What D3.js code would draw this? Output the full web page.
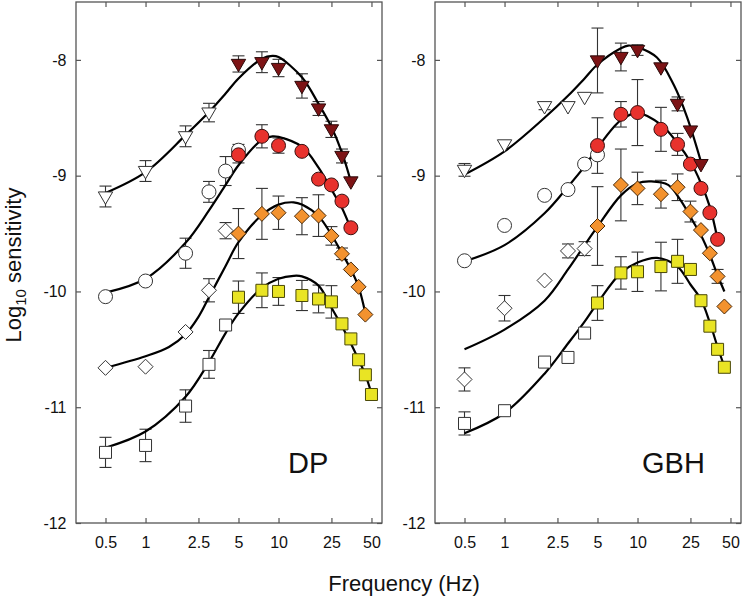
<!DOCTYPE html>
<html>
<head>
<meta charset="utf-8">
<script src="https://cdn.jsdelivr.net/npm/d3@7"></script>
<style>
  html, body { margin: 0; padding: 0; background: #fff; }
  svg { display: block; font-family: "Liberation Sans", Arial, Helvetica, sans-serif; }
</style>
</head>
<body>
<svg id="chart" width="742" height="605"></svg>
<script>
// ---------- tick labels ----------
const freqTicks = [0.5, 1, 2.5, 5, 10, 25, 50];
const logTicks = [-8, -9, -10, -11, -12];
const panelNames = ["DP", "GBH"];

// ---------- DP ----------
const dpTriF = [0.5, 1, 2, 3, 5, 7.5, 10, 15, 20, 25, 30, 35];
const dpTriV = [-9.18, -8.96, -8.66, -8.455, -8.035, -8.02, -8.07, -8.225, -8.42, -8.60, -8.83, -9.05];
const dpTriE = [0.09, 0.09, 0.09, 0.08, 0.07, 0.09, 0.075, 0.105, 0.06, 0.07, 0.06, 0];
const dpTriOpen = 4;
const dpTriFitF = [0.5, 1, 2, 3, 4, 5, 7.5, 9, 10, 15, 20, 25, 30, 35];
const dpTriFitV = [-9.15, -8.97, -8.65, -8.45, -8.29, -8.16, -7.99, -7.965, -7.975, -8.15, -8.38, -8.58, -8.80, -9.05];

const dpCirF = [0.5, 1, 2, 3, 4, 5, 5, 7.5, 10, 15, 20, 25, 30, 35];
const dpCirV = [-10.045, -9.91, -9.67, -9.14, -8.96, -8.78, -8.82, -8.66, -8.74, -8.79, -9.03, -9.08, -9.22, -9.45];
const dpCirE = [0, 0, 0.13, 0.09, 0.125, 0.05, 0.07, 0.1, 0.066, 0, 0, 0, 0, 0];
const dpCirOpen = 6;
const dpCirFitF = [0.5, 1, 2, 3, 4, 5, 7.5, 9, 10, 15, 20, 25, 30, 35];
const dpCirFitV = [-10.01, -9.89, -9.58, -9.30, -9.08, -8.91, -8.69, -8.66, -8.665, -8.75, -8.93, -9.12, -9.28, -9.46];

const dpDiaF = [0.5, 1, 2, 3, 4, 5, 7.5, 10, 15, 20, 25, 30, 35, 40, 45];
const dpDiaV = [-10.66, -10.65, -10.35, -9.99, -9.475, -9.50, -9.33, -9.32, -9.35, -9.345, -9.52, -9.675, -9.81, -9.96, -10.20];
const dpDiaE = [0, 0, 0, 0.1, 0.07, 0.216, 0.22, 0.144, 0.16, 0.18, 0.08, 0.05, 0, 0, 0];
const dpDiaOpen = 5;
const dpDiaFitF = [0.5, 1, 1.5, 2, 2.5, 3, 4, 5, 7.5, 10, 13, 15, 20, 25, 30, 35, 40, 45];
const dpDiaFitV = [-10.66, -10.56, -10.48, -10.37, -10.22, -10.05, -9.78, -9.575, -9.34, -9.25, -9.23, -9.25, -9.35, -9.51, -9.67, -9.81, -9.96, -10.19];

const dpSqrF = [0.5, 1, 2, 3, 4, 5, 7.5, 10, 15, 20, 25, 30, 35, 40, 45, 50];
const dpSqrV = [-11.39, -11.33, -10.99, -10.63, -10.29, -10.05, -9.99, -10.0, -10.035, -10.065, -10.09, -10.28, -10.41, -10.59, -10.72, -10.89];
const dpSqrE = [0.13, 0.14, 0.14, 0.12, 0, 0.14, 0.15, 0.12, 0.13, 0.12, 0.14, 0, 0, 0, 0, 0];
const dpSqrOpen = 5;
const dpSqrFitF = [0.5, 1, 2, 3, 4, 5, 7.5, 10, 13, 15, 20, 25, 30, 35, 40, 45, 50];
const dpSqrFitV = [-11.35, -11.21, -10.91, -10.61, -10.36, -10.19, -9.97, -9.89, -9.865, -9.87, -9.95, -10.14, -10.30, -10.45, -10.59, -10.72, -10.88];

// ---------- GBH ----------
const gbTriF = [0.5, 1, 2, 3, 4, 5, 7.5, 10, 15, 20, 25, 30];
const gbTriV = [-8.95, -8.73, -8.40, -8.40, -8.32, -8.005, -7.975, -7.915, -8.065, -8.38, -8.61, -8.90];
const gbTriE = [0.055, 0, 0.03, 0, 0, 0.28, 0.12, 0.046, 0, 0.06, 0, 0];
const gbTriOpen = 5;
const gbTriFitF = [0.5, 1, 2, 3, 4, 5, 7.5, 8.5, 10, 14, 18.8, 23.5, 30];
const gbTriFitV = [-8.99, -8.79, -8.50, -8.31, -8.16, -8.04, -7.90, -7.876, -7.89, -7.98, -8.22, -8.49, -8.88];

const gbCirF = [0.5, 1, 2, 3, 4, 5, 5, 7.5, 10, 15, 20, 25, 30, 35, 40];
const gbCirV = [-9.735, -9.43, -9.17, -9.12, -8.90, -8.82, -8.74, -8.47, -8.455, -8.60, -8.73, -8.90, -9.11, -9.32, -9.55];
const gbCirE = [0, 0, 0.03, 0, 0, 0, 0.24, 0.11, 0.285, 0.19, 0.095, 0, 0, 0, 0];
const gbCirOpen = 6;
const gbCirFitF = [0.5, 1, 2, 3, 4, 5, 7.5, 10, 15, 20, 25, 30, 35, 40];
const gbCirFitV = [-9.74, -9.60, -9.325, -9.095, -8.92, -8.76, -8.52, -8.46, -8.56, -8.72, -8.88, -9.065, -9.27, -9.55];

const gbDiaF = [0.5, 1, 2, 3, 4, 5, 7.5, 10, 15, 20, 25, 30, 35, 40, 45];
const gbDiaV = [-10.76, -10.145, -9.905, -9.65, -9.63, -9.435, -9.08, -9.11, -9.16, -9.10, -9.31, -9.47, -9.67, -9.87, -10.13];
const gbDiaE = [0.1, 0.11, 0, 0.06, 0.06, 0.34, 0.31, 0.14, 0.12, 0.115, 0.09, 0, 0, 0.06, 0];
const gbDiaOpen = 5;
const gbDiaFitF = [0.5, 1, 2, 3, 4, 5, 7.5, 10, 12.7, 17, 21, 26.3, 30, 35, 40, 45];
const gbDiaFitV = [-10.50, -10.33, -10.08, -9.81, -9.60, -9.44, -9.17, -9.065, -9.05, -9.08, -9.21, -9.40, -9.515, -9.685, -9.86, -10.0];

const gbSqrF = [0.5, 1, 2, 3, 4, 5, 7.5, 10, 15, 20, 25, 30, 35, 40, 45];
const gbSqrV = [-11.14, -11.03, -10.61, -10.57, -10.36, -10.10, -9.84, -9.83, -9.785, -9.74, -9.81, -10.08, -10.30, -10.50, -10.655];
const gbSqrE = [0.1, 0, 0, 0, 0, 0.15, 0.14, 0.17, 0.21, 0.19, 0, 0, 0, 0, 0];
const gbSqrOpen = 5;
const gbSqrFitF = [0.5, 1, 2, 3, 4, 5, 7.5, 10, 14, 20, 25, 30, 35, 40, 45];
const gbSqrFitV = [-11.225, -11.05, -10.71, -10.45, -10.26, -10.10, -9.84, -9.75, -9.71, -9.785, -9.94, -10.07, -10.27, -10.48, -10.65];

// ---------- build ----------
const seriesStyle = {
  tri: { fill: "#7d1315", stroke: "#2b0a0a" },
  cir: { fill: "#e8322d", stroke: "#3a1010" },
  dia: { fill: "#f3922e", stroke: "#4a2a08" },
  sqr: { fill: "#e9e424", stroke: "#4a4808" }
};
function mk(shape, F, V, E, nOpen, fitF, fitV) {
  return {
    shape,
    pts: F.map((f, i) => ({ f, v: V[i], e: E[i], open: i < nOpen })),
    fit: fitF.map((f, i) => ({ f, v: fitV[i] }))
  };
}
const panels = [
  { name: panelNames[0], x0: 76, x1: 382, series: [
    mk("sqr", dpSqrF, dpSqrV, dpSqrE, dpSqrOpen, dpSqrFitF, dpSqrFitV),
    mk("dia", dpDiaF, dpDiaV, dpDiaE, dpDiaOpen, dpDiaFitF, dpDiaFitV),
    mk("cir", dpCirF, dpCirV, dpCirE, dpCirOpen, dpCirFitF, dpCirFitV),
    mk("tri", dpTriF, dpTriV, dpTriE, dpTriOpen, dpTriFitF, dpTriFitV)
  ]},
  { name: panelNames[1], x0: 435, x1: 741, series: [
    mk("sqr", gbSqrF, gbSqrV, gbSqrE, gbSqrOpen, gbSqrFitF, gbSqrFitV),
    mk("dia", gbDiaF, gbDiaV, gbDiaE, gbDiaOpen, gbDiaFitF, gbDiaFitV),
    mk("cir", gbCirF, gbCirV, gbCirE, gbCirOpen, gbCirFitF, gbCirFitV),
    mk("tri", gbTriF, gbTriV, gbTriE, gbTriOpen, gbTriFitF, gbTriFitV)
  ]}
];

const svg = d3.select("#chart");
const yTop = 2, yBot = 523;
const y = d3.scaleLinear().domain([-12, -7.5]).range([yBot, yTop]);
const frameColor = "#555";

function shapePath(shape) {
  if (shape === "cir") return d3.symbol(d3.symbolCircle, Math.PI * 7 * 7)();
  if (shape === "sqr") return "M-6,-6H6V6H-6Z";
  if (shape === "dia") return "M0,-7.5L7.5,0L0,7.5L-7.5,0Z";
  return "M-7.2,-4.6L7.2,-4.6L0,7.8Z"; // downward triangle
}

panels.forEach(p => {
  const x = d3.scaleLog().domain([0.3, 60]).range([p.x0, p.x1]);
  const g = svg.append("g");

  // axes (inward ticks)
  const fmt = d => String(d);
  const bottom = g.append("g").attr("transform", `translate(0,${yBot})`)
    .call(d3.axisBottom(x).tickValues(freqTicks).tickFormat(fmt).tickSize(-5).tickSizeOuter(0).tickPadding(14));
  const top = g.append("g").attr("transform", `translate(0,${yTop})`)
    .call(d3.axisTop(x).tickValues(freqTicks).tickFormat("").tickSize(-5).tickSizeOuter(0));
  const left = g.append("g").attr("transform", `translate(${p.x0},0)`)
    .call(d3.axisLeft(y).tickValues(logTicks).tickFormat(fmt).tickSize(-5).tickSizeOuter(0).tickPadding(9.5));
  const right = g.append("g").attr("transform", `translate(${p.x1},0)`)
    .call(d3.axisRight(y).tickValues(logTicks).tickFormat("").tickSize(-5).tickSizeOuter(0));
  [bottom, top, left, right].forEach(a => {
    a.select(".domain").remove();
    a.selectAll("line").attr("stroke", frameColor).attr("stroke-width", 1.2);
    a.selectAll("text").attr("font-size", 16).attr("fill", "#111")
      .attr("font-family", '"Liberation Sans", Arial, sans-serif');
  });

  g.append("rect")
    .attr("x", p.x0).attr("y", yTop)
    .attr("width", p.x1 - p.x0).attr("height", yBot - yTop)
    .attr("fill", "none").attr("stroke", frameColor).attr("stroke-width", 1.3);

  const line = d3.line().x(d => x(d.f)).y(d => y(d.v)).curve(d3.curveCatmullRom.alpha(0.5));

  // error bars
  p.series.forEach(s => {
    const eb = g.append("g").attr("stroke", "#333").attr("stroke-width", 1.1).attr("fill", "none");
    s.pts.filter(d => d.e > 0).forEach(d => {
      const cx = x(d.f), ya = y(d.v + d.e), yb = y(d.v - d.e);
      eb.append("line").attr("x1", cx).attr("x2", cx).attr("y1", ya).attr("y2", yb);
      eb.append("line").attr("x1", cx - 6).attr("x2", cx + 6).attr("y1", ya).attr("y2", ya);
      eb.append("line").attr("x1", cx - 6).attr("x2", cx + 6).attr("y1", yb).attr("y2", yb);
    });
  });
  // fitted curves
  p.series.forEach(s => {
    g.append("path").datum(s.fit).attr("d", line)
      .attr("fill", "none").attr("stroke", "#000").attr("stroke-width", 2.2);
  });
  // markers
  p.series.forEach(s => {
    const st = seriesStyle[s.shape];
    const path = shapePath(s.shape);
    g.append("g").selectAll("path").data(s.pts).join("path")
      .attr("d", path)
      .attr("transform", d => `translate(${x(d.f)},${y(d.v)})`)
      .attr("fill", d => d.open ? "#fff" : st.fill)
      .attr("stroke", d => d.open ? "#333" : st.stroke)
      .attr("stroke-width", 1);
  });

  // panel label
  g.append("text").attr("x", p.name === "DP" ? 288 : 642).attr("y", 472.5)
    .attr("font-size", 29).attr("fill", "#111").text(p.name);
});

// axis titles
svg.append("text").attr("x", 404).attr("y", 591).attr("text-anchor", "middle")
  .attr("font-size", 22).attr("fill", "#111").text("Frequency (Hz)");

const yl = svg.append("text").attr("transform", "translate(21,265) rotate(-90)")
  .attr("text-anchor", "middle").attr("font-size", 22).attr("fill", "#111");
yl.append("tspan").text("Log");
yl.append("tspan").attr("font-size", 15).attr("dy", 5).text("10");
yl.append("tspan").attr("dy", -5).text(" sensitivity");
</script>
</body>
</html>
